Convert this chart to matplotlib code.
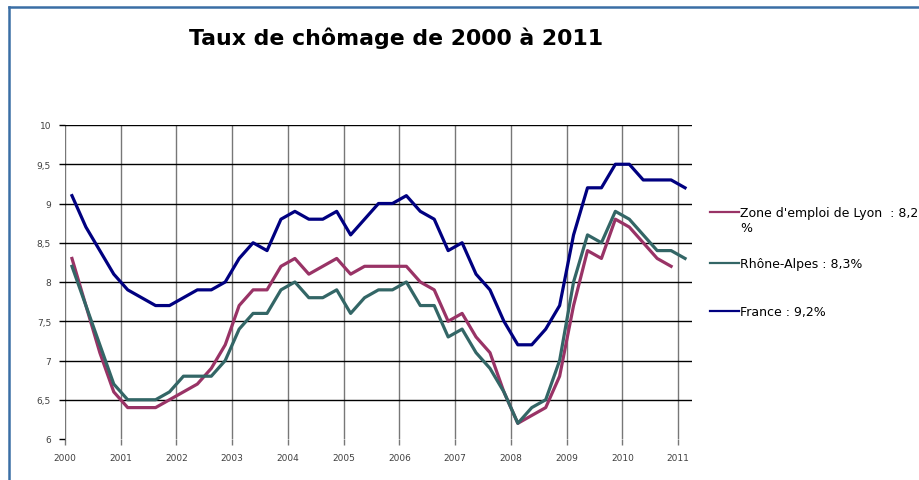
import numpy as np
import matplotlib
matplotlib.use("Agg")
import matplotlib.pyplot as plt
from matplotlib.lines import Line2D

# quarterly unemployment rates (%), first quarter of 2000 onwards
start_year = 2000
lyon = [8.3, 7.7, 7.1, 6.6, 6.4, 6.4, 6.4, 6.5, 6.6, 6.7, 6.9, 7.2,
        7.7, 7.9, 7.9, 8.2, 8.3, 8.1, 8.2, 8.3, 8.1, 8.2, 8.2, 8.2,
        8.2, 8.0, 7.9, 7.5, 7.6, 7.3, 7.1, 6.6, 6.2, 6.3, 6.4, 6.8,
        7.7, 8.4, 8.3, 8.8, 8.7, 8.5, 8.3, 8.2]
rhone_alpes = [8.2, 7.7, 7.2, 6.7, 6.5, 6.5, 6.5, 6.6, 6.8, 6.8, 6.8, 7.0,
               7.4, 7.6, 7.6, 7.9, 8.0, 7.8, 7.8, 7.9, 7.6, 7.8, 7.9, 7.9,
               8.0, 7.7, 7.7, 7.3, 7.4, 7.1, 6.9, 6.6, 6.2, 6.4, 6.5, 7.0,
               8.0, 8.6, 8.5, 8.9, 8.8, 8.6, 8.4, 8.4, 8.3]
france = [9.1, 8.7, 8.4, 8.1, 7.9, 7.8, 7.7, 7.7, 7.8, 7.9, 7.9, 8.0,
          8.3, 8.5, 8.4, 8.8, 8.9, 8.8, 8.8, 8.9, 8.6, 8.8, 9.0, 9.0,
          9.1, 8.9, 8.8, 8.4, 8.5, 8.1, 7.9, 7.5, 7.2, 7.2, 7.4, 7.7,
          8.6, 9.2, 9.2, 9.5, 9.5, 9.3, 9.3, 9.3, 9.2]

labels = ["Zone d'emploi de Lyon  : 8,2\n%", "Rhône-Alpes : 8,3%", "France : 9,2%"]
colors = ["#993366", "#336666", "#000080"]

years = list(range(2000, 2012))
y_ticks = [6, 6.5, 7, 7.5, 8, 8.5, 9, 9.5, 10]
y_tick_labels = ["6", "6,5", "7", "7,5", "8", "8,5", "9", "9,5", "10"]


def quarter_x(values):
    # each quarter is drawn in the middle of its slot
    return start_year + (np.arange(len(values)) + 0.5) / 4


W, H = 920, 481
fig = plt.figure(figsize=(W / 100, H / 100), dpi=100)

# frame of the original sheet (top and left edges)
fig.add_artist(Line2D([8.5 / W, 1], [1 - 7.5 / H, 1 - 7.5 / H], color="#3A6EA5", lw=1.8))
fig.add_artist(Line2D([8.5 / W, 8.5 / W], [0, 1 - 7.5 / H], color="#3A6EA5", lw=1.8))

fig.text(396 / W, 1 - 38 / H, "Taux de chômage de 2000 à 2011", ha="center", va="center",
         fontsize=15.8, fontweight="bold", family="DejaVu Sans")

ax = fig.add_axes([65 / W, 1 - 440 / H, 627 / W, 314 / H])
ax.set_xlim(2000, 2011.25)
ax.set_ylim(6, 10)
for s in ax.spines.values():
    s.set_visible(False)

ax.set_xticks(years)
ax.set_xticklabels([str(y) for y in years])
ax.set_yticks(y_ticks)
ax.set_yticklabels(y_tick_labels)
ax.tick_params(axis="y", length=4, width=1, color="black", pad=6, labelsize=6.5, labelcolor="#404040")
ax.tick_params(axis="x", length=4, width=1, color="#777777", pad=6, labelsize=6.5, labelcolor="#404040")
ax.grid(axis="y", color="black", lw=1)
ax.grid(axis="x", color="#777777", lw=1)
ax.yaxis.get_gridlines()[0].set_visible(False)
ax.set_axisbelow(True)

lines = []
for vals, c in zip([lyon, rhone_alpes, france], colors):
    ln, = ax.plot(quarter_x(vals), vals, color=c, lw=2.3, solid_joinstyle="round", clip_on=False)
    lines.append(ln)

# legend drawn by hand, each sample aligned with the first text line
legend_y = [213, 264, 312]
for ln, lab, ly in zip(lines, labels, legend_y):
    fy = 1 - ly / H
    fig.add_artist(Line2D([710 / W, 739 / W], [fy, fy], color=ln.get_color(), lw=1.6))
    fig.text(740 / W, 1 - (ly - 6) / H, lab, ha="left", va="top", fontsize=9,
             family="DejaVu Sans", linespacing=1.15)

fig.savefig("out.png", dpi=100)
